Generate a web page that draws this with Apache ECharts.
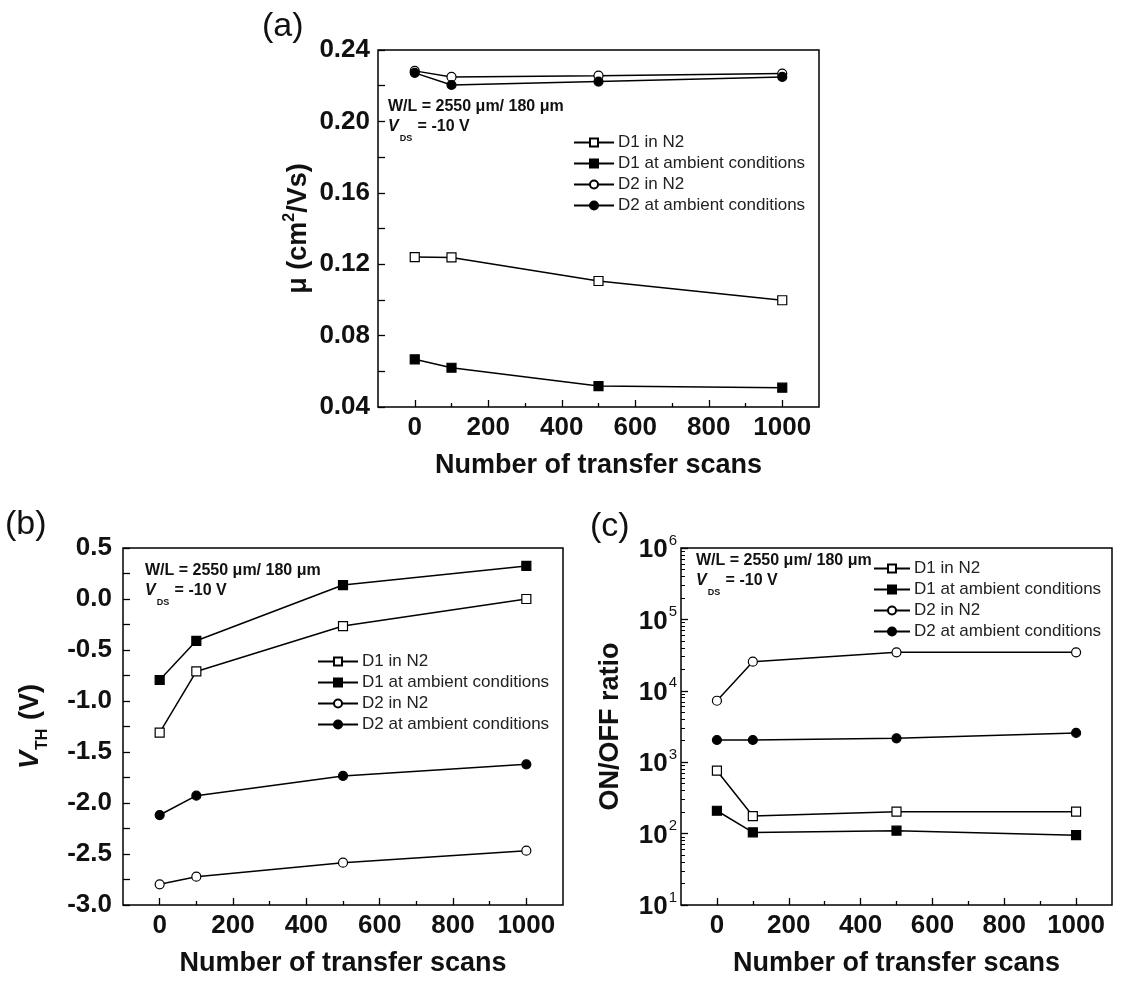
<!DOCTYPE html>
<html><head><meta charset="utf-8">
<script src="https://cdn.jsdelivr.net/npm/echarts@6/dist/echarts.min.js"></script>
<style>html,body{margin:0;padding:0;background:#fff}#c{width:1125px;height:981px}</style>
</head><body><div id="c"></div>
<script>
// ---------------- data ----------------
const scans = [0, 100, 500, 1000];
const seriesNames = ['D1 in N2', 'D1 at ambient conditions', 'D2 in N2', 'D2 at ambient conditions'];
// (a) mobility, cm2/Vs
const muD1N2  = [0.1240, 0.1238, 0.1106, 0.0998];
const muD1Amb = [0.0667, 0.0620, 0.0517, 0.0508];
const muD2N2  = [0.2283, 0.2249, 0.2256, 0.2268];
const muD2Amb = [0.2272, 0.2204, 0.2223, 0.2249];
// (b) threshold voltage, V
const vthD1N2  = [-1.31, -0.71, -0.265, 0.00];
const vthD1Amb = [-0.794, -0.41, 0.137, 0.324];
const vthD2N2  = [-2.797, -2.722, -2.585, -2.467];
const vthD2Amb = [-2.118, -1.928, -1.735, -1.621];
// (c) ON/OFF ratio
const onoffD1N2  = [760, 176, 203, 203];
const onoffD1Amb = [209, 104, 110, 95];
const onoffD2N2  = [7260, 25600, 34600, 34600];
const onoffD2Amb = [2046, 2046, 2160, 2570];
// tick values
const xMajorTicks = [0, 200, 400, 600, 800, 1000];
const xMinorTicks = [100, 300, 500, 700, 900];
const logMajorTicks = [10, 100, 1000, 10000, 100000, 1000000];
const logMinorTicks = [20, 30, 40, 50, 60, 70, 80, 90,
  200, 300, 400, 500, 600, 700, 800, 900,
  2000, 3000, 4000, 5000, 6000, 7000, 8000, 9000,
  20000, 30000, 40000, 50000, 60000, 70000, 80000, 90000,
  200000, 300000, 400000, 500000, 600000, 700000, 800000, 900000];
const panelLabels = ['(a)', '(b)', '(c)'];
const xTitle = 'Number of transfer scans';
const annoWL = 'W/L = 2550 μm/ 180 μm';

// ---------------- styling ----------------
const FF = "'Liberation Sans', Arial, Helvetica, sans-serif";
const symbols = ['rect', 'rect', 'circle', 'circle'];
const fills = ['#ffffff', '#000000', '#ffffff', '#000000'];

function mkSeries(gridIdx, xIdx, yIdx, arrays) {
  return arrays.map((arr, i) => ({
    name: seriesNames[i],
    type: 'line',
    xAxisIndex: xIdx,
    yAxisIndex: yIdx,
    data: scans.map((s, k) => [s, arr[k]]),
    symbol: symbols[i],
    symbolSize: 9,
    showSymbol: true,
    lineStyle: { color: '#000', width: 1.5 },
    itemStyle: { color: fills[i], borderColor: '#000', borderWidth: 1.2 },
    emphasis: { disabled: true },
    z: 3
  }));
}

const grids = [
  { left: 378, top: 50, width: 441, height: 357 },
  { left: 123, top: 548, width: 440, height: 357 },
  { left: 681, top: 548, width: 431, height: 357 }
].map(g => Object.assign(g, { show: true, borderColor: '#000', borderWidth: 1.5, backgroundColor: 'transparent', containLabel: false }));

function xMajor(gi) {
  return {
    type: 'value', gridIndex: gi, min: -100, max: 1100, position: 'bottom',
    axisLine: { show: false, onZero: false },
    splitLine: { show: false },
    axisTick: { show: true, inside: true, length: 7, customValues: xMajorTicks, lineStyle: { color: '#000', width: 1.3 } },
    axisLabel: { customValues: xMajorTicks, margin: 8, color: '#111', fontSize: 26, fontWeight: 'bold', fontFamily: FF, formatter: v => String(v) },
    name: xTitle, nameLocation: 'middle', nameGap: 45,
    nameTextStyle: { fontSize: 27, fontWeight: 'bold', color: '#111', fontFamily: FF }
  };
}
function xMinor(gi) {
  return {
    type: 'value', gridIndex: gi, min: -100, max: 1100, position: 'bottom',
    axisLine: { show: false, onZero: false },
    splitLine: { show: false },
    axisTick: { show: true, inside: true, length: 4, customValues: xMinorTicks, lineStyle: { color: '#000', width: 1.3 } },
    axisLabel: { show: false, customValues: xMinorTicks }
  };
}

const option = {
  animation: false,
  backgroundColor: '#fff',
  grid: grids,
  xAxis: [xMajor(0), xMinor(0), xMajor(1), xMinor(1), xMajor(2), xMinor(2)],
  yAxis: [
    {
      type: 'value', gridIndex: 0, min: 0.04, max: 0.24, interval: 0.04, position: 'left',
      axisLine: { show: false, onZero: false }, splitLine: { show: false },
      axisTick: { inside: true, length: 7, lineStyle: { color: '#000', width: 1.3 } },
      minorTick: { show: true, splitNumber: 2, length: 7, lineStyle: { color: '#000', width: 1.3 } },
      axisLabel: { margin: 8, color: '#111', fontSize: 26, fontWeight: 'bold', fontFamily: FF, formatter: v => v.toFixed(2) },
      name: '{b|μ (cm}{sup|2}{b|/Vs)}', nameLocation: 'middle', nameGap: 66, nameRotate: 90,
      nameTextStyle: { color: '#111', fontFamily: FF, rich: {
        b: { fontSize: 27, fontWeight: 'bold', fontFamily: FF, color: '#111', lineHeight: 30, verticalAlign: 'bottom' },
        sup: { fontSize: 16, fontWeight: 'bold', fontFamily: FF, color: '#111', lineHeight: 16, verticalAlign: 'top' } } }
    },
    {
      type: 'value', gridIndex: 1, min: -3, max: 0.5, interval: 0.5, position: 'left',
      axisLine: { show: false, onZero: false }, splitLine: { show: false },
      axisTick: { inside: true, length: 7, lineStyle: { color: '#000', width: 1.3 } },
      minorTick: { show: true, splitNumber: 2, length: 7, lineStyle: { color: '#000', width: 1.3 } },
      axisLabel: { margin: 11, color: '#111', fontSize: 26, fontWeight: 'bold', fontFamily: FF, formatter: v => v.toFixed(1) },
      name: '{i|V}{s|TH}{n| (V)}', nameLocation: 'middle', nameGap: 78, nameRotate: 90,
      nameTextStyle: { color: '#111', fontFamily: FF, rich: {
        i: { fontSize: 27, fontWeight: 'bold', fontStyle: 'italic', fontFamily: FF, color: '#111', lineHeight: 28, verticalAlign: 'top' },
        s: { fontSize: 16, fontWeight: 'bold', fontFamily: FF, color: '#111', lineHeight: 16, padding: [18, 1, 0, 1], verticalAlign: 'top' },
        n: { fontSize: 27, fontWeight: 'bold', fontFamily: FF, color: '#111', lineHeight: 28, verticalAlign: 'top' } } }
    },
    {
      type: 'log', logBase: 10, gridIndex: 2, min: 10, max: 1000000, position: 'left',
      axisLine: { show: false, onZero: false }, splitLine: { show: false },
      axisTick: { inside: true, length: 7, customValues: logMajorTicks, lineStyle: { color: '#000', width: 1.3 } },
      axisLabel: { customValues: logMajorTicks, margin: 4, color: '#111', fontFamily: FF,
        formatter: v => '{b|10}{s|' + Math.round(Math.log10(v)) + '}',
        rich: {
          b: { fontSize: 26, fontWeight: 'bold', fontFamily: FF, color: '#111', lineHeight: 30, verticalAlign: 'bottom' },
          s: { fontSize: 15, fontFamily: FF, color: '#111', lineHeight: 15, verticalAlign: 'top', padding: [0, 0, 0, 1] } } },
      name: 'ON/OFF ratio', nameLocation: 'middle', nameGap: 57, nameRotate: 90,
      nameTextStyle: { fontSize: 27, fontWeight: 'bold', color: '#111', fontFamily: FF }
    },
    {
      type: 'log', logBase: 10, gridIndex: 2, min: 10, max: 1000000, position: 'left',
      axisLine: { show: false, onZero: false }, splitLine: { show: false },
      axisTick: { inside: true, length: 4, customValues: logMinorTicks, lineStyle: { color: '#000', width: 1 } },
      axisLabel: { show: false, customValues: logMinorTicks }
    }
  ],
  legend: [
    { left: 573, top: 134, itemWidth: 40 },
    { left: 317, top: 653, itemWidth: 40 },
    { left: 873, top: 560, itemWidth: 36 }
  ].map(l => Object.assign(l, {
    data: seriesNames, orient: 'vertical', itemHeight: 10, itemGap: 4, selectedMode: false,
    padding: 0, textStyle: { fontSize: 17, color: '#222', fontFamily: FF, padding: [0, 0, 0, -1] }
  })),
  series: [].concat(
    mkSeries(0, 0, 0, [muD1N2, muD1Amb, muD2N2, muD2Amb]),
    mkSeries(1, 2, 1, [vthD1N2, vthD1Amb, vthD2N2, vthD2Amb]),
    mkSeries(2, 4, 2, [onoffD1N2, onoffD1Amb, onoffD2N2, onoffD2Amb])
  ),
  graphic: []
};

// panel labels and annotations
const panelPos = [[262, 10], [5, 508], [590, 510]];
panelLabels.forEach((t, i) => option.graphic.push({
  type: 'text', left: panelPos[i][0], top: panelPos[i][1],
  style: { text: t, font: '34px ' + FF, fill: '#111' }
}));
const annoPos = [[388, 99], [145, 563], [696, 553]];
annoPos.forEach(p => {
  option.graphic.push({ type: 'text', left: p[0], top: p[1],
    style: { text: annoWL, font: 'bold 16px ' + FF, fill: '#111' } });
  option.graphic.push({ type: 'text', left: p[0], top: p[1] + 20,
    style: { text: '{i|V}{s|DS}{n| = -10 V}', fill: '#111',
      rich: {
        i: { fontSize: 16, fontWeight: 'bold', fontStyle: 'italic', fontFamily: FF, fill: '#111', lineHeight: 17, verticalAlign: 'top' },
        s: { fontSize: 9, fontWeight: 'bold', fontFamily: FF, fill: '#111', lineHeight: 9, padding: [15, 1, 0, 1], verticalAlign: 'top' },
        n: { fontSize: 16, fontWeight: 'bold', fontFamily: FF, fill: '#111', lineHeight: 17, verticalAlign: 'top' }
      } } });
});

const chart = echarts.init(document.getElementById('c'), null, { renderer: 'canvas' });
chart.setOption(option);
</script>
</body></html>
